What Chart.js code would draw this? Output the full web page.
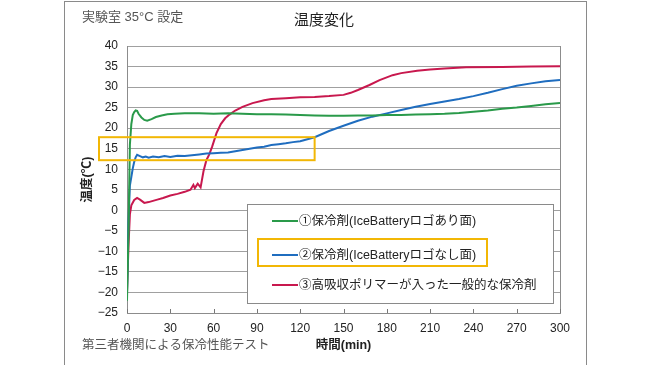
<!DOCTYPE html>
<html>
<head>
<meta charset="utf-8">
<script src="https://cdn.jsdelivr.net/npm/chart.js@4"></script>
<style>
  body { margin: 0; background: #fff; }
  canvas { display: block; }
</style>
</head>
<body>
<canvas id="tempChart" width="650" height="365"></canvas>
<script>
// 系列名
const seriesLabels = [
    '①保冷剤(IceBatteryロゴあり面)',
    '②保冷剤(IceBatteryロゴなし面)',
    '③高吸収ポリマーが入った一般的な保冷剤'
];
const seriesColors = ['#2a9a4a', '#1f6dbf', '#c8184e'];

// ① ロゴあり面
const greenTime = [0, 1, 2, 3, 4, 5, 6, 7, 8, 10, 12, 14, 17, 20, 24, 28, 33, 40, 50, 60, 70, 80, 90, 100, 110, 120, 130, 140, 150, 160, 170, 180, 190, 200, 210, 220, 230, 240, 250, 260, 270, 280, 290, 300];
const greenTemp = [-22, -6, 16, 21, 23.2, 23.9, 24.3, 24.2, 23.5, 22.6, 22.0, 21.8, 22.2, 22.7, 23.1, 23.4, 23.5, 23.6, 23.6, 23.5, 23.6, 23.5, 23.4, 23.4, 23.3, 23.2, 23.1, 23.0, 23.0, 23.1, 23.1, 23.2, 23.2, 23.3, 23.4, 23.5, 23.7, 24.0, 24.3, 24.7, 25.0, 25.4, 25.8, 26.1];

// ② ロゴなし面
const blueTime = [0, 1, 2, 3, 4, 5, 6, 7, 9, 11, 13, 15, 18, 22, 26, 30, 35, 40, 45, 50, 55, 60, 65, 70, 75, 80, 85, 90, 95, 100, 105, 110, 115, 120, 125, 130, 140, 150, 160, 170, 180, 190, 200, 210, 220, 230, 240, 250, 260, 270, 280, 290, 300];
const blueTemp = [-20, -3, 6, 8.1, 10.2, 11.8, 12.9, 13.5, 13.2, 12.9, 13.1, 12.8, 13.1, 12.9, 13.2, 13.0, 13.3, 13.2, 13.4, 13.6, 13.8, 13.9, 14.0, 14.1, 14.4, 14.7, 15.0, 15.3, 15.5, 15.9, 16.1, 16.3, 16.6, 16.8, 17.3, 17.8, 19.3, 20.6, 21.8, 22.8, 23.6, 24.4, 25.2, 25.9, 26.5, 27.1, 27.8, 28.6, 29.5, 30.3, 30.9, 31.4, 31.7];

// ③ 一般的な保冷剤
const redTime = [0, 1, 2, 3, 5, 7, 9, 12, 15, 18, 21, 25, 30, 35, 40, 44, 46, 47, 49, 51, 53, 55, 57, 59, 62, 65, 68, 71, 75, 80, 87, 95, 100, 110, 120, 130, 140, 150, 155, 160, 168, 175, 184, 190, 201, 210, 220, 235, 260, 280, 300];
const redTemp = [-20, -9, -1, 1.2, 2.5, 3.0, 2.6, 1.8, 2.0, 2.3, 2.6, 3.0, 3.6, 4.0, 4.5, 5.0, 6.2, 5.4, 6.5, 5.6, 9.5, 12.2, 13.6, 15.5, 18.8, 21.0, 22.4, 23.3, 24.3, 25.2, 26.1, 26.8, 27.1, 27.3, 27.5, 27.6, 27.8, 28.1, 28.6, 29.3, 30.5, 31.7, 32.9, 33.4, 34.0, 34.3, 34.5, 34.8, 34.9, 35.0, 35.1];

const xTicks = [0, 30, 60, 90, 120, 150, 180, 210, 240, 270, 300];

const FONT = "'Liberation Sans', 'Noto Sans CJK JP', sans-serif";

function toPoints(times, temps) {
    return times.map((t, i) => ({ x: t, y: temps[i] }));
}

// 枠・タイトル・凡例などを描く
const decorPlugin = {
    id: 'decor',
    afterDraw(chart) {
        const c = chart.ctx;
        const area = chart.chartArea;
        const xs = chart.scales.x;
        const ys = chart.scales.y;
        c.save();

        // 外枠
        c.strokeStyle = '#8a8a8a';
        c.lineWidth = 1;
        c.strokeRect(64.5, 1.5, 522, 400);

        // プロット右端
        c.strokeStyle = '#8c8c8c';
        c.beginPath();
        c.moveTo(area.right + 0.5, area.top);
        c.lineTo(area.right + 0.5, area.bottom);
        c.stroke();

        // x 軸の内向き目盛り
        c.strokeStyle = '#777';
        xTicks.forEach(v => {
            const px = Math.round(xs.getPixelForValue(v)) + 0.5;
            c.beginPath();
            c.moveTo(px, area.bottom);
            c.lineTo(px, area.bottom - 4);
            c.stroke();
        });

        // 凡例
        const lx = 247, ly = 204, lw = 306, lh = 99;
        c.fillStyle = '#fff';
        c.fillRect(lx, ly, lw, lh);
        c.strokeStyle = '#8a8a8a';
        c.strokeRect(lx + 0.5, ly + 0.5, lw, lh);
        const rows = [221, 255, 285];
        c.font = '12.5px ' + FONT;
        c.textBaseline = 'middle';
        c.textAlign = 'left';
        seriesLabels.forEach((lab, i) => {
            c.strokeStyle = seriesColors[i];
            c.lineWidth = 2;
            c.beginPath();
            c.moveTo(272, rows[i]);
            c.lineTo(298, rows[i]);
            c.stroke();
            c.fillStyle = '#222';
            c.fillText(lab, 299, rows[i] + 1);
        });

        // 黄色の枠
        c.strokeStyle = '#f2b705';
        c.lineWidth = 2;
        const yTop = ys.getPixelForValue(17.8);
        const yBot = ys.getPixelForValue(12.2);
        const xRight = xs.getPixelForValue(130);
        c.strokeRect(99, yTop, xRight - 99, yBot - yTop);
        c.strokeRect(258, 239, 229, 27);

        // テキスト
        c.fillStyle = '#555';
        c.font = '13px ' + FONT;
        c.textAlign = 'left';
        c.fillText('実験室 35°C 設定', 82, 17);
        c.font = '12.5px ' + FONT;
        c.fillText('第三者機関による保冷性能テスト', 82, 346);

        c.fillStyle = '#222';
        c.font = '15px ' + FONT;
        c.textAlign = 'center';
        c.fillText('温度変化', 324, 21);

        c.font = 'bold 12.5px ' + FONT;
        c.fillText('時間(min)', (area.left + area.right) / 2, 346);

        c.translate(88, (area.top + area.bottom) / 2);
        c.rotate(-Math.PI / 2);
        c.fillText('温度(℃)', 0, 0);

        c.restore();
    }
};

const ctx = document.getElementById('tempChart').getContext('2d');
const tempChart = new Chart(ctx, {
    type: 'line',
    data: {
        datasets: [
            { label: seriesLabels[0], data: toPoints(greenTime, greenTemp), borderColor: seriesColors[0] },
            { label: seriesLabels[1], data: toPoints(blueTime, blueTemp), borderColor: seriesColors[1] },
            { label: seriesLabels[2], data: toPoints(redTime, redTemp), borderColor: seriesColors[2] }
        ]
    },
    options: {
        responsive: false,
        animation: false,
        devicePixelRatio: 1,
        layout: { padding: { top: 46, right: 90, left: 0, bottom: 0 } },
        elements: {
            point: { radius: 0 },
            line: { borderWidth: 2, tension: 0, fill: false }
        },
        plugins: {
            legend: { display: false },
            tooltip: { enabled: false }
        },
        scales: {
            x: {
                type: 'linear',
                min: 0,
                max: 300,
                afterFit: s => { s.height = 52; },
                afterBuildTicks: s => { s.ticks = xTicks.map(v => ({ value: v })); },
                grid: { display: false, drawTicks: false },
                border: { color: '#8c8c8c' },
                ticks: { padding: 8, color: '#222', font: { family: FONT, size: 12 } }
            },
            y: {
                min: -25,
                max: 40,
                afterFit: s => { s.width = 127; },
                grid: { color: '#a0a0a0', drawTicks: false },
                border: { color: '#8c8c8c' },
                ticks: {
                    stepSize: 5,
                    padding: 9,
                    color: '#222',
                    font: { family: FONT, size: 12 },
                    callback: v => String(v).replace('-', '−')
                }
            }
        }
    },
    plugins: [decorPlugin]
});
</script>
</body>
</html>
